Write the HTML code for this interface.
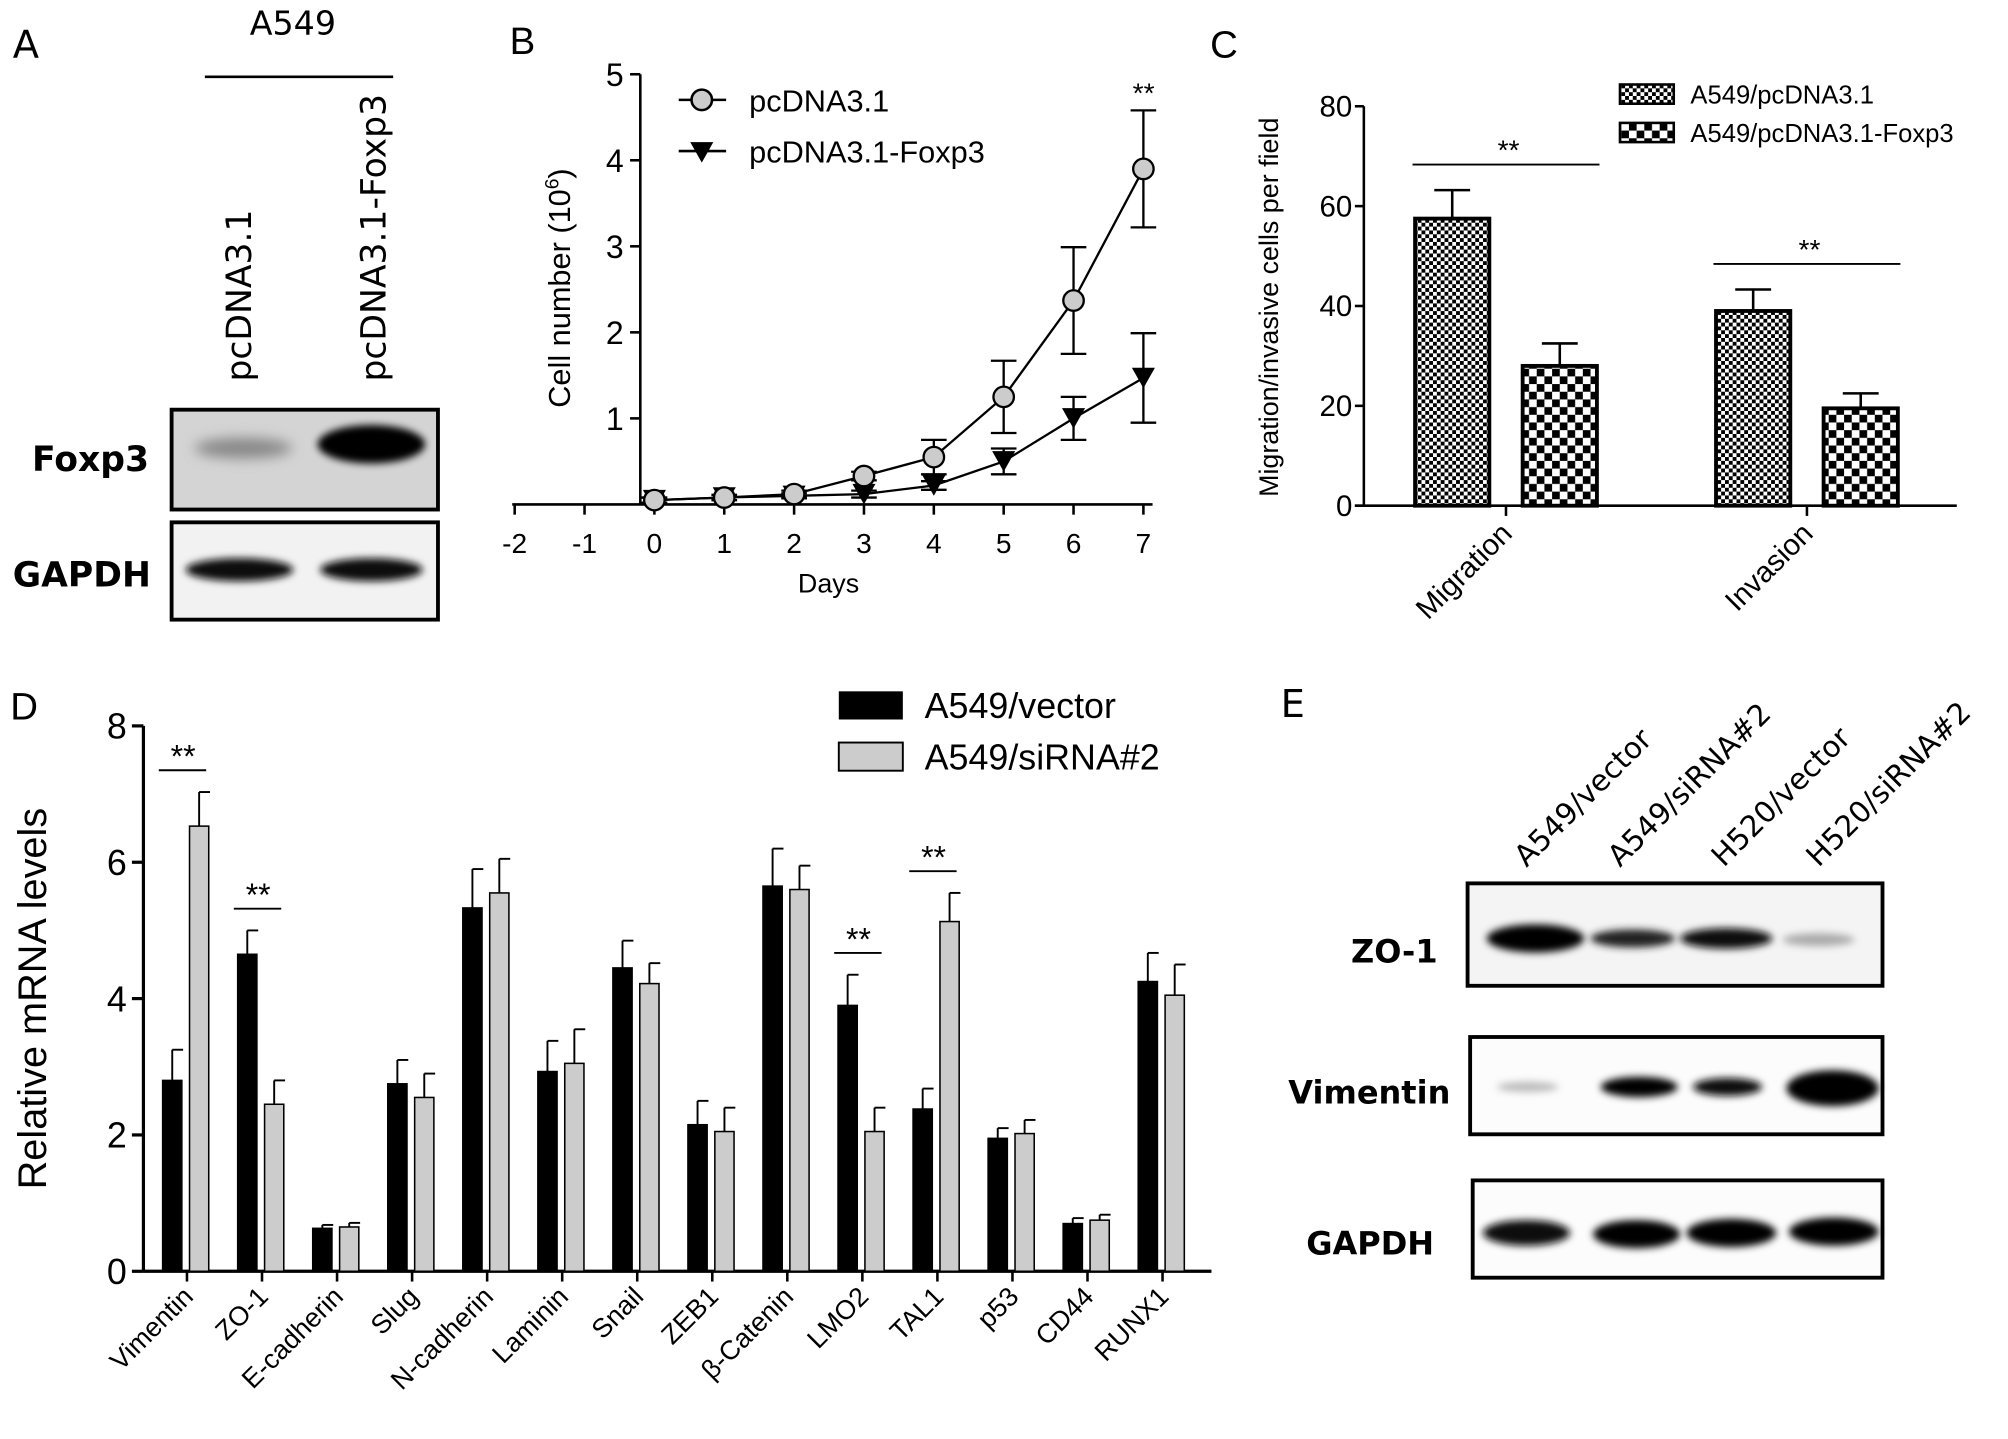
<!DOCTYPE html>
<html><head><meta charset="utf-8">
<style>
html,body{margin:0;padding:0;background:#fff;}
svg{display:block;}
text{font-family:"Liberation Sans",Arial,sans-serif;fill:#000;}
.blot text{font-family:"DejaVu Sans","Liberation Sans",sans-serif;}
</style></head>
<body>
<svg id="fig" width="2008" height="1439" viewBox="0 0 1568 1124" preserveAspectRatio="none" xmlns="http://www.w3.org/2000/svg">
<defs>
<filter id="blur3" x="-50%" y="-100%" width="200%" height="300%"><feGaussianBlur stdDeviation="3"/></filter>
<filter id="blur5" x="-50%" y="-100%" width="200%" height="300%"><feGaussianBlur stdDeviation="5"/></filter>
<pattern id="patFine" width="6" height="6" patternUnits="userSpaceOnUse"><rect width="6" height="6" fill="#fff"/><rect width="3" height="3" fill="#000"/><rect x="3" y="3" width="3" height="3" fill="#000"/></pattern>
<pattern id="patCoarse" width="12" height="12" patternUnits="userSpaceOnUse"><rect width="12" height="12" fill="#fff"/><rect width="6" height="6" fill="#000"/><rect x="6" y="6" width="6" height="6" fill="#000"/></pattern>
</defs>

<!-- Panel A -->
<g class="blot">
<text x="10" y="45" font-size="30">A</text>
<text x="195" y="27" font-size="26">A549</text>
<line x1="160" y1="60" x2="307" y2="60" stroke="#000" stroke-width="2"/>
<text transform="translate(196,298) rotate(-90)" font-size="27">pcDNA3.1</text>
<text transform="translate(301,298) rotate(-90)" font-size="27">pcDNA3.1-Foxp3</text>
<text x="25" y="368" font-size="27" font-weight="bold">Foxp3</text>
<text x="10" y="458" font-size="27" font-weight="bold">GAPDH</text>
<rect x="134" y="320" width="208" height="78" fill="#d4d4d4" stroke="#000" stroke-width="3"/>
<ellipse cx="190" cy="350" rx="38" ry="8" fill="#888" filter="url(#blur5)"/>
<ellipse cx="290" cy="347" rx="42" ry="15" fill="#000" filter="url(#blur3)"/>
<rect x="134" y="408" width="208" height="76" fill="#f2f2f2" stroke="#000" stroke-width="3"/>
<ellipse cx="187" cy="445" rx="42" ry="9" fill="#111" filter="url(#blur3)"/>
<ellipse cx="290" cy="445" rx="40" ry="9" fill="#111" filter="url(#blur3)"/>
</g>

<!-- Panel B -->
<g id="panelB">
<text x="398" y="42" font-size="30">B</text>
<text transform="translate(445,225) rotate(-90)" font-size="24" text-anchor="middle">Cell number (10<tspan dy="-9" font-size="15">6</tspan><tspan dy="9">)</tspan></text>
<text x="647" y="463" font-size="21" text-anchor="middle">Days</text>
<line x1="530" y1="78" x2="567" y2="78" stroke="#000" stroke-width="2"/>
<circle cx="548" cy="78" r="8" fill="#ccc" stroke="#000" stroke-width="2"/>
<text x="585" y="87" font-size="24">pcDNA3.1</text>
<line x1="530" y1="118" x2="567" y2="118" stroke="#000" stroke-width="2"/>
<path d="M539,111 L557,111 L548,127 Z" fill="#000"/>
<text x="585" y="127" font-size="24">pcDNA3.1-Foxp3</text>
<text x="893" y="80" font-size="22" text-anchor="middle">**</text>
</g>

<!-- Panel C -->
<g id="panelC">
<text x="945" y="45" font-size="30">C</text>
<text transform="translate(998,240) rotate(-90)" font-size="21" text-anchor="middle">Migration/invasive cells per field</text>
<rect x="1265" y="66" width="42" height="15" fill="url(#patFine)" stroke="#000" stroke-width="2"/>
<text x="1320" y="81" font-size="20">A549/pcDNA3.1</text>
<rect x="1265" y="96" width="42" height="15" fill="url(#patCoarse)" stroke="#000" stroke-width="2"/>
<text x="1320" y="111" font-size="20">A549/pcDNA3.1-Foxp3</text>
</g>

<!-- Panel D -->
<g id="panelD">
<text x="8" y="562" font-size="30">D</text>
<text transform="translate(36,780) rotate(-90)" font-size="31" text-anchor="middle">Relative mRNA levels</text>
<rect x="655" y="540" width="50" height="22" fill="#000"/>
<text x="722" y="561" font-size="28">A549/vector</text>
<rect x="655" y="580" width="50" height="22" fill="#ccc" stroke="#000" stroke-width="1.5"/>
<text x="722" y="601" font-size="28">A549/siRNA#2</text>
</g>

<!-- Panel E -->
<g class="blot">
<text x="1000" y="560" font-size="30">E</text>
<text transform="translate(1192,678) rotate(-45)" font-size="23">A549/vector</text>
<text transform="translate(1265,678) rotate(-45)" font-size="23">A549/siRNA#2</text>
<text transform="translate(1346,678) rotate(-45)" font-size="23">H520/vector</text>
<text transform="translate(1420,678) rotate(-45)" font-size="23">H520/siRNA#2</text>
<text x="1055" y="752" font-size="25" font-weight="bold">ZO-1</text>
<text x="1006" y="862" font-size="25" font-weight="bold">Vimentin</text>
<text x="1020" y="980" font-size="25" font-weight="bold">GAPDH</text>
<rect x="1146" y="690" width="324" height="80" fill="#f4f4f4" stroke="#000" stroke-width="3"/>
<ellipse cx="1199" cy="733" rx="38" ry="11" fill="#000" filter="url(#blur3)"/>
<ellipse cx="1275" cy="733" rx="33" ry="7" fill="#222" filter="url(#blur3)"/>
<ellipse cx="1348" cy="733" rx="36" ry="8" fill="#111" filter="url(#blur3)"/>
<ellipse cx="1420" cy="734" rx="28" ry="5" fill="#aaa" filter="url(#blur3)"/>
<rect x="1148" y="810" width="322" height="76" fill="#fcfcfc" stroke="#000" stroke-width="3"/>
<ellipse cx="1193" cy="849" rx="24" ry="4" fill="#bbb" filter="url(#blur3)"/>
<ellipse cx="1280" cy="849" rx="30" ry="8" fill="#000" filter="url(#blur3)"/>
<ellipse cx="1349" cy="849" rx="27" ry="7" fill="#111" filter="url(#blur3)"/>
<ellipse cx="1431" cy="850" rx="36" ry="14" fill="#000" filter="url(#blur3)"/>
<rect x="1150" y="922" width="320" height="76" fill="#fcfcfc" stroke="#000" stroke-width="3"/>
<ellipse cx="1192" cy="963" rx="34" ry="10" fill="#111" filter="url(#blur3)"/>
<ellipse cx="1278" cy="964" rx="34" ry="11" fill="#000" filter="url(#blur3)"/>
<ellipse cx="1352" cy="963" rx="35" ry="11" fill="#000" filter="url(#blur3)"/>
<ellipse cx="1432" cy="962" rx="35" ry="11" fill="#000" filter="url(#blur3)"/>
</g>
</svg>

<script>
// ---- Panel B data ----
const daysB = [0,1,2,3,4,5,6,7];
const pcdnaVals = [0.05,0.08,0.12,0.33,0.55,1.25,2.37,3.9];
const pcdnaErr = [0.03,0.03,0.04,0.05,0.2,0.42,0.62,0.68];
const foxp3Vals = [0.05,0.08,0.1,0.12,0.22,0.5,1.0,1.47];
const foxp3Err = [0.03,0.03,0.03,0.04,0.05,0.15,0.25,0.52];
const xTicksB = [-2,-1,0,1,2,3,4,5,6,7];
const yTicksB = [1,2,3,4,5];

// ---- Panel C data ----
const catsC = ["Migration","Invasion"];
const ctrlC = [57.5,39];
const ctrlErrC = [5.7,4.3];
const foxC = [28,19.5];
const foxErrC = [4.5,3];
const yTicksC = [0,20,40,60,80];

// ---- Panel D data ----
const catsD = ["Vimentin","ZO-1","E-cadherin","Slug","N-cadherin","Laminin","Snail","ZEB1","β-Catenin","LMO2","TAL1","p53","CD44","RUNX1"];
const vectorVals = [2.8,4.65,0.63,2.75,5.33,2.93,4.45,2.15,5.65,3.9,2.38,1.95,0.7,4.25];
const vectorErr = [0.45,0.35,0.05,0.35,0.57,0.45,0.4,0.35,0.55,0.45,0.3,0.15,0.08,0.42];
const sirnaVals = [6.53,2.45,0.65,2.55,5.55,3.05,4.22,2.05,5.6,2.05,5.13,2.02,0.75,4.05];
const sirnaErr = [0.5,0.35,0.06,0.35,0.5,0.5,0.3,0.35,0.35,0.35,0.42,0.2,0.08,0.45];
const sigD = ["Vimentin","ZO-1","LMO2","TAL1"];
const yTicksD = [0,2,4,6,8];

const NS = "http://www.w3.org/2000/svg";
function mk(parent, tag, attrs, txt){
  const e = document.createElementNS(NS, tag);
  for (const k in attrs) e.setAttribute(k, attrs[k]);
  if (txt !== undefined) e.textContent = txt;
  parent.appendChild(e);
  return e;
}

// ===== Panel B =====
(function(){
  const g = document.getElementById('panelB');
  const xB = d => 511 + 54.55*d;
  const yB = v => 394 - 67.2*v;
  let a = mk(g,'line',{x1:500,y1:yB(5),x2:500,y2:394,stroke:'#000','stroke-width':2});
  
  
  a = mk(g,'line',{x1:400,y1:394,x2:900,y2:394,stroke:'#000','stroke-width':2});
  
  
  yTicksB.forEach(t=>{
    mk(g,'line',{x1:492,y1:yB(t),x2:500,y2:yB(t),stroke:'#000','stroke-width':2});
    const l = mk(g,'text',{x:487,y:yB(t)+9,'font-size':25,'text-anchor':'end'},String(t));
    
    
  });
  xTicksB.forEach(t=>{
    mk(g,'line',{x1:xB(t),y1:394,x2:xB(t),y2:402,stroke:'#000','stroke-width':2});
    const l = mk(g,'text',{x:xB(t),y:432,'font-size':22,'text-anchor':'middle'},String(t));
    
    
  });
  function series(vals, errs, name, marker){
    const pts = daysB.map((d,i)=>xB(d)+','+yB(vals[i])).join(' ');
    const pl = mk(g,'polyline',{points:pts,fill:'none',stroke:'#000','stroke-width':1.8});
    
    
    daysB.forEach((d,i)=>{
      const x = xB(d), y1 = yB(vals[i]+errs[i]), y2 = yB(vals[i]-errs[i]);
      mk(g,'line',{x1:x,y1:y1,x2:x,y2:y2,stroke:'#000','stroke-width':1.8});
      mk(g,'line',{x1:x-10,y1:y1,x2:x+10,y2:y1,stroke:'#000','stroke-width':1.8});
      mk(g,'line',{x1:x-10,y1:y2,x2:x+10,y2:y2,stroke:'#000','stroke-width':1.8});
    });
    daysB.forEach((d,i)=>{
      const x = xB(d), y = yB(vals[i]);
      let m;
      if (marker==='circle') m = mk(g,'circle',{cx:x,cy:y,r:8,fill:'#ccc',stroke:'#000','stroke-width':1.8});
      else m = mk(g,'path',{d:`M${x-9},${y-8} L${x+9},${y-8} L${x},${y+8} Z`,fill:'#000'});
      
      
    });
  }
  series(foxp3Vals, foxp3Err, 'foxp3', 'tri');
  series(pcdnaVals, pcdnaErr, 'pcdna', 'circle');
})();

// ===== Panel C =====
(function(){
  const g = document.getElementById('panelC');
  const yC = v => 395 - 3.9*v;
  const groupX = [1176, 1411];
  let a = mk(g,'line',{x1:1065,y1:yC(80),x2:1065,y2:395,stroke:'#000','stroke-width':2});
  
  
  a = mk(g,'line',{x1:1058,y1:395,x2:1528,y2:395,stroke:'#000','stroke-width':2});
  
  
  yTicksC.forEach(t=>{
    mk(g,'line',{x1:1058,y1:yC(t),x2:1065,y2:yC(t),stroke:'#000','stroke-width':2});
    const l = mk(g,'text',{x:1056,y:yC(t)+8,'font-size':23,'text-anchor':'end'},String(t));
    
    
  });
  catsC.forEach((c,i)=>{
    const cx = groupX[i];
    mk(g,'line',{x1:cx,y1:395,x2:cx,y2:403,stroke:'#000','stroke-width':2});
    const l = mk(g,'text',{transform:`translate(${cx+6},418) rotate(-45)`,'font-size':23,'text-anchor':'end'},c);
    
    
    [[ctrlC,ctrlErrC,-71,'url(#patFine)','bar-pcdna-'],[foxC,foxErrC,13,'url(#patCoarse)','bar-foxp3-']].forEach(s=>{
      const v = s[0][i], e = s[1][i], x0 = cx + s[2], w = 58;
      mk(g,'line',{x1:x0+w/2,y1:yC(v),x2:x0+w/2,y2:yC(v+e),stroke:'#000','stroke-width':2});
      mk(g,'line',{x1:x0+w/2-14,y1:yC(v+e),x2:x0+w/2+14,y2:yC(v+e),stroke:'#000','stroke-width':2});
      const b = mk(g,'rect',{x:x0,y:yC(v),width:w,height:395-yC(v),fill:s[3],stroke:'#000','stroke-width':3});
      
      
    });
    const top = yC(Math.max(ctrlC[i]+ctrlErrC[i], foxC[i]+foxErrC[i])) - 20;
    const sl = mk(g,'line',{x1:cx-73,y1:top,x2:cx+73,y2:top,stroke:'#000','stroke-width':1.5});
    
    
    const st = mk(g,'text',{x:cx+2,y:top-4,'font-size':22,'text-anchor':'middle'},'**');
    
    
  });
})();

// ===== Panel D =====
(function(){
  const g = document.getElementById('panelD');
  const yD = v => 993 - 53.25*v;
  const xD = i => 146 + 58.6*i;
  let a = mk(g,'line',{x1:112,y1:yD(8),x2:112,y2:993,stroke:'#000','stroke-width':2.5});
  
  
  a = mk(g,'line',{x1:112,y1:993,x2:946,y2:993,stroke:'#000','stroke-width':2.5});
  
  
  yTicksD.forEach(t=>{
    mk(g,'line',{x1:103,y1:yD(t),x2:112,y2:yD(t),stroke:'#000','stroke-width':2.5});
    const l = mk(g,'text',{x:99,y:yD(t)+10,'font-size':28,'text-anchor':'end'},String(t));
    
    
  });
  catsD.forEach((c,i)=>{
    const cx = xD(i);
    mk(g,'line',{x1:cx,y1:993,x2:cx,y2:1001,stroke:'#000','stroke-width':2});
    const l = mk(g,'text',{transform:`translate(${cx+6},1014) rotate(-45)`,'font-size':21,'text-anchor':'end'},c);
    
    
    [[vectorVals,vectorErr,-19,'#000','bar-vector-'],[sirnaVals,sirnaErr,2,'#ccc','bar-sirna-']].forEach(s=>{
      const v = s[0][i], e = s[1][i], x0 = cx + s[2], w = 15;
      mk(g,'line',{x1:x0+w/2,y1:yD(v),x2:x0+w/2,y2:yD(v+e),stroke:'#000','stroke-width':1.5});
      mk(g,'line',{x1:x0+w/2,y1:yD(v+e),x2:x0+w+1,y2:yD(v+e),stroke:'#000','stroke-width':1.5});
      const b = mk(g,'rect',{x:x0,y:yD(v),width:w,height:993-yD(v),fill:s[3],stroke:'#000','stroke-width':1.2});
      
      
    });
    if (sigD.indexOf(c) >= 0){
      const top = yD(Math.max(vectorVals[i]+vectorErr[i], sirnaVals[i]+sirnaErr[i])) - 17;
      const sl = mk(g,'line',{x1:cx-22,y1:top,x2:cx+15,y2:top,stroke:'#000','stroke-width':1.5});
      
      
      const st = mk(g,'text',{x:cx-3,y:top-2,'font-size':25,'text-anchor':'middle'},'**');
      
      
    }
  });
})();
</script>
</body></html>
